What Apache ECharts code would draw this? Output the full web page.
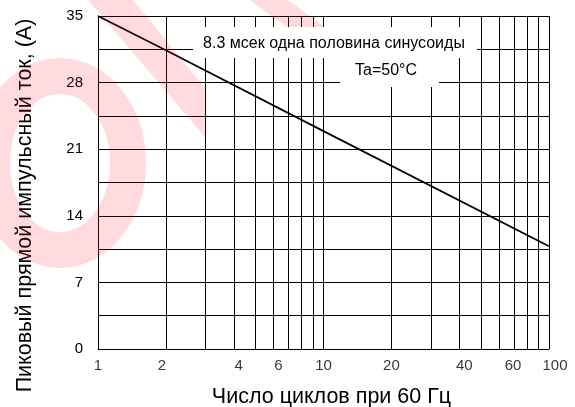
<!DOCTYPE html>
<html>
<head>
<meta charset="utf-8">
<script src="https://cdn.jsdelivr.net/npm/echarts@6/dist/echarts.min.js"></script>
<style>
  html, body { margin: 0; padding: 0; background: #fff; }
  #chart { width: 575px; height: 407px; }
</style>
</head>
<body>
<div id="chart"></div>
<script>
// ---- data ----
const cycles = [1, 2, 10, 100];
const current = [35, 31.4, 22.9, 10.8];
const xTickLabels = [1, 2, 4, 6, 10, 20, 40, 60, 100];
const xMinorGrid = [2, 3, 4, 5, 6, 7, 8, 9, 20, 30, 40, 50, 60, 70, 80, 90];
const yLabelStep = 7;
const yGridStep = 3.5;
const noteLine1 = '8.3 мсек одна половина синусоиды';
const noteLine2 = 'Ta=50°C';
const xTitle = 'Число циклов при 60 Гц';
const yTitle = 'Пиковый прямой импульсный ток, (А)';

// small label nudges (px) to match the reference placement
const labelNudge = { 2: -4, 4: 5, 6: 5, 40: 5, 60: 14, 100: 6 };

const FONT = 'Liberation Sans, Arial, sans-serif';
const pink = 'rgba(255,0,35,0.14)';

const chart = echarts.init(document.getElementById('chart'), null, { renderer: 'canvas' });

const option = {
  animation: false,
  backgroundColor: '#fff',
  grid: { left: 98, right: 26, top: 16, bottom: 58, containLabel: false, outerBoundsMode: 'none' },
  xAxis: {
    type: 'log',
    logBase: 10,
    min: 1,
    max: 100,
    name: xTitle,
    nameLocation: 'middle',
    nameGap: 37,
    nameTextStyle: { fontFamily: FONT, fontSize: 21.5, color: '#000', padding: [0, 0, 0, 16] },
    axisLine: { show: true, lineStyle: { color: '#000', width: 1 } },
    axisTick: { show: false },
    axisLabel: { show: false },
    splitLine: { show: true, lineStyle: { color: '#000', width: 1 } }
  },
  yAxis: {
    type: 'value',
    min: 0,
    max: 35,
    interval: yGridStep,
    name: yTitle,
    nameLocation: 'middle',
    nameGap: 62,
    nameTextStyle: { fontFamily: FONT, fontSize: 21.5, color: '#000', padding: [0, 46, 0, 0] },
    axisLine: { show: true, lineStyle: { color: '#000', width: 1 } },
    axisTick: { show: false },
    axisLabel: {
      margin: 15,
      fontFamily: FONT,
      fontSize: 15,
      color: '#000',
      formatter: v => (Math.abs(v / yLabelStep - Math.round(v / yLabelStep)) < 1e-6 ? String(Math.round(v)) : '')
    },
    splitLine: { show: true, lineStyle: { color: '#000', width: 1 } }
  },
  series: [
    {
      type: 'line',
      data: cycles.map((c, i) => [c, current[i]]),
      showSymbol: false,
      symbol: 'none',
      smooth: false,
      lineStyle: { color: '#000', width: 1.7 },
      z: 5,
      markLine: {
        silent: true,
        symbol: ['none', 'none'],
        label: { show: false },
        lineStyle: { color: '#000', width: 1, type: 'solid' },
        emphasis: { disabled: true },
        data: xMinorGrid.map(v => ({ xAxis: v }))
      }
    },
    {
      type: 'scatter',
      symbolSize: 0,
      clip: false,
      silent: true,
      data: xTickLabels.map(v => ({
        value: [v, 0],
        label: { offset: [labelNudge[v] || 0, 0] }
      })),
      label: {
        show: true,
        position: 'bottom',
        distance: 9,
        fontFamily: FONT,
        fontSize: 15,
        color: '#000',
        formatter: p => String(p.value[0])
      }
    }
  ],
  graphic: [
    // pale watermark strokes
    { type: 'ellipse', silent: true, z: 50,
      shape: { cx: 60, cy: 163, rx: 68, ry: 87 },
      style: { fill: 'none', stroke: pink, lineWidth: 36 } },
    { type: 'polygon', silent: true, z: 50,
      shape: { points: [[88, 0], [133, 0], [205, 88], [205, 137]] },
      style: { fill: pink } },
    { type: 'polygon', silent: true, z: 50,
      shape: { points: [[250, 0], [288, 0], [326, 28], [288, 28]] },
      style: { fill: pink } },
    // annotation boxes
    { type: 'rect', silent: true, z: 60,
      shape: { x: 193, y: 27, width: 284, height: 31 },
      style: { fill: '#fff' } },
    { type: 'rect', silent: true, z: 60,
      shape: { x: 340, y: 57, width: 99, height: 30 },
      style: { fill: '#fff' } },
    { type: 'text', silent: true, z: 61,
      style: { x: 334, y: 44, text: noteLine1, font: '16px ' + FONT, fill: '#000',
               textAlign: 'center', textVerticalAlign: 'middle' } },
    { type: 'text', silent: true, z: 61,
      style: { x: 386, y: 71, text: noteLine2, font: '16px ' + FONT, fill: '#000',
               textAlign: 'center', textVerticalAlign: 'middle' } }
  ]
};

chart.setOption(option);
</script>
</body>
</html>
